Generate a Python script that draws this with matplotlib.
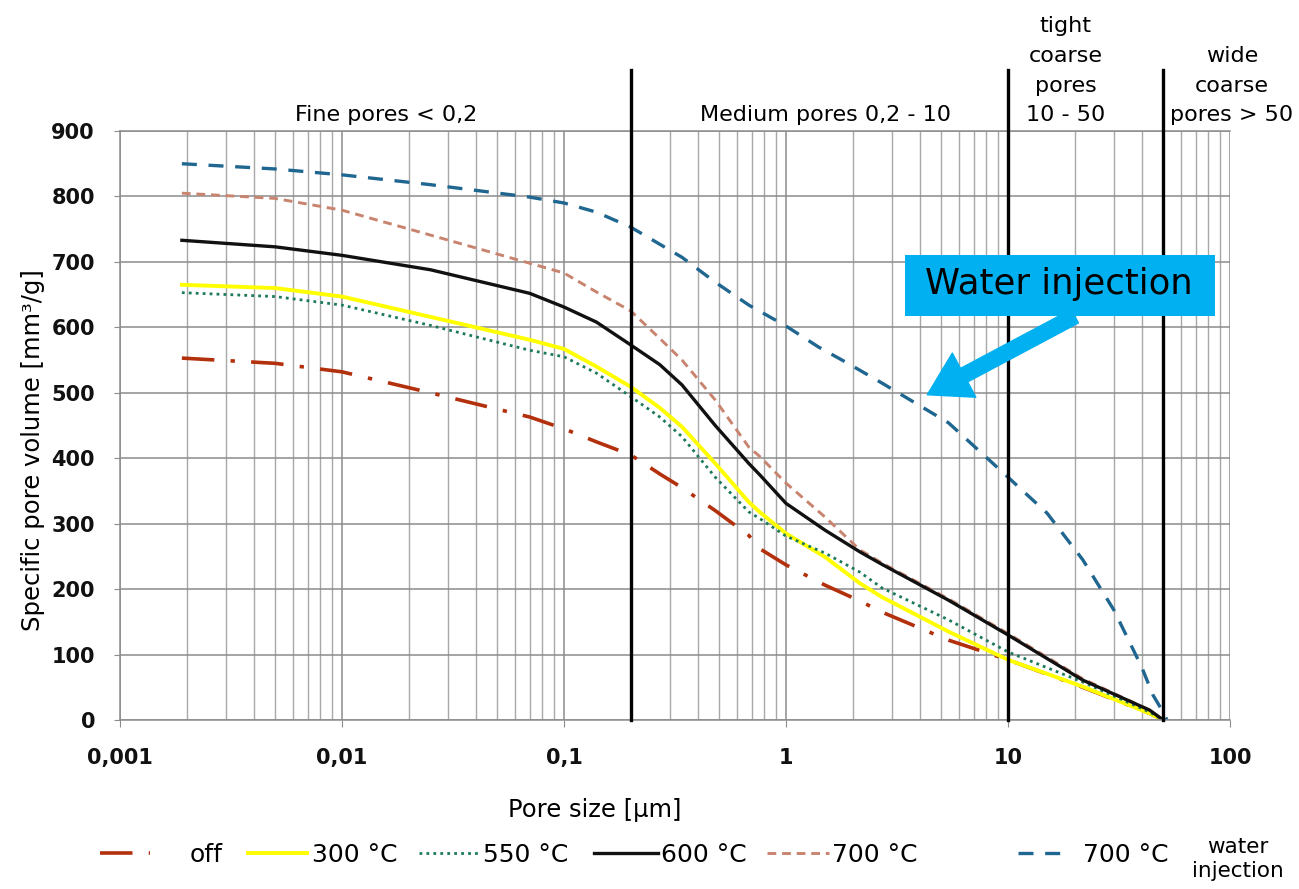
import matplotlib
matplotlib.use("Agg")
import matplotlib.pyplot as plt
from matplotlib.patches import Rectangle

plt.rcParams['font.family'] = ['DejaVu Sans']

# ---- data ----
x_common = [0.0019, 0.005, 0.01, 0.025, 0.07, 0.1, 0.14, 0.2, 0.27, 0.34, 0.48, 0.68,
            0.76, 1.0, 1.5, 2.15, 2.7, 5.4, 10, 21.7, 43.5, 50]
y_off    = [553, 545, 532, 500, 463, 445, 425, 405, 376, 355, 320, 282,
            262, 237, 206, 182, 165, 122, 92, 50, 10, 0]
y_300    = [665, 660, 647, 616, 581, 567, 540, 509, 477, 448, 392, 333,
            318, 285, 249, 209, 188, 135, 92, 51, 10, 0]
y_550    = [653, 647, 634, 603, 565, 555, 530, 494, 463, 433, 371, 318,
            308, 281, 255, 226, 202, 153, 104, 58, 12, 0]
y_600    = [733, 723, 710, 688, 652, 631, 608, 573, 543, 512, 450, 392,
            375, 331, 290, 257, 238, 183, 130, 61, 15, 0]
y_700    = [805, 797, 779, 741, 698, 683, 654, 625, 583, 550, 489, 417,
            403, 362, 310, 260, 240, 185, 132, 63, 15, 0]
x_water  = [0.0019, 0.005, 0.01, 0.025, 0.07, 0.1, 0.14, 0.2, 0.34, 0.48, 0.68,
            1.0, 1.4, 1.9, 2.7, 5.4, 10, 15, 21.7, 30, 40, 45, 50, 52]
y_water  = [850, 842, 833, 818, 799, 790, 776, 753, 707, 669, 634,
            602, 570, 545, 515, 454, 371, 316, 245, 168, 81, 38, 12, 0]

class_bounds = [0.2, 10, 50]
xtick_vals = [0.001, 0.01, 0.1, 1, 10, 100]
xtick_labels = ["0,001", "0,01", "0,1", "1", "10", "100"]
yticks = list(range(0, 901, 100))
legend_labels = ["off", "300 °C", "550 °C", "600 °C", "700 °C", "700 °C"]

W, H = 1299, 889
# ---- figure ----
fig = plt.figure(figsize=(W / 100, H / 100), dpi=100)
ax = fig.add_axes([120 / W, 1 - 720 / H, 1110 / W, 589 / H])
ax.set_xscale('log')
ax.set_xlim(0.001, 100)
ax.set_ylim(0, 900)

ax.set_xticks(xtick_vals)
ax.set_xticklabels(xtick_labels)
ax.set_yticks(yticks)
ax.grid(True, which='major', axis='both', color='#8c8c8c', lw=1.1)
ax.grid(True, which='minor', axis='x', color='#a8a8a8', lw=1.0)
ax.tick_params(axis='both', which='major', labelsize=15, colors='#8c8c8c',
               labelcolor='#111111')
ax.tick_params(axis='x', which='minor', length=0)
ax.tick_params(axis='x', which='major', length=5, pad=15)
ax.tick_params(axis='y', which='major', length=4, pad=14)
for lab in ax.get_xticklabels() + ax.get_yticklabels():
    lab.set_fontweight('bold')
for s in ax.spines.values():
    s.set_color('#8c8c8c')
    s.set_linewidth(1.1)
ax.spines['right'].set_visible(False)

# curves
l_off, = ax.plot(x_common, y_off, color='#b3300c', lw=2.6, dashes=[9, 4.5, 1.2, 4.5], label=legend_labels[0])
l_300, = ax.plot(x_common, y_300, color='#ffff00', lw=2.8, label=legend_labels[1])
l_550, = ax.plot(x_common, y_550, color='#1b7a5a', lw=2.0, linestyle=(0, (1, 1.5)), label=legend_labels[2])
l_700, = ax.plot(x_common, y_700, color='#c8846e', lw=2.1, dashes=[3, 2], label=legend_labels[4])
l_600, = ax.plot(x_common, y_600, color='#111111', lw=2.4, label=legend_labels[3])
l_wat, = ax.plot(x_water, y_water, color='#1f6690', lw=2.4, dashes=[4.5, 3.5], label=legend_labels[5])

# class boundaries
for b in class_bounds:
    ax.plot([b, b], [0, 993], color='black', lw=2.4, clip_on=False, zorder=5)

# class labels
ax.text(0.0158, 915, "Fine pores < 0,2", ha='center', va='baseline', fontsize=16)
ax.text(1.50, 915, "Medium pores 0,2 - 10", ha='center', va='baseline', fontsize=16)
ax.text(18.2, 915, "tight\ncoarse\npores\n10 - 50", ha='center', va='baseline',
        fontsize=16, linespacing=1.6, multialignment='center')
ax.text(102, 915, "wide\ncoarse\npores > 50", ha='center', va='baseline',
        fontsize=16, linespacing=1.6, multialignment='center', clip_on=False)

# axis labels
ax.set_ylabel("Specific pore volume [mm³/g]", fontsize=17.5)
ax.yaxis.set_label_coords(-0.068, 0.458)
ax.set_xlabel("Pore size [µm]", fontsize=17.5)
ax.xaxis.set_label_coords(0.428, -0.132)

# annotation
ax.annotate("", xy=(4.33, 497), xytext=(20, 617),
            arrowprops=dict(arrowstyle="simple,head_width=1.8,head_length=1.5,tail_width=0.55",
                            color='#00b0f0', mutation_scale=20, shrinkA=0, shrinkB=0), zorder=6)
ax.add_patch(Rectangle((785 / 1110, 404 / 589), 310 / 1110, 61 / 589, transform=ax.transAxes,
                       facecolor='#00b0f0', edgecolor='none', zorder=7, clip_on=False))
ax.text(939 / 1110, 436 / 589, "Water injection", transform=ax.transAxes, ha='center', va='center',
        fontsize=25.5, color='black', zorder=8)

# legend: one entry per slot
handles = [l_off, l_300, l_550, l_600, l_700, l_wat]
slot_x = [100, 248, 419, 594, 767, 1018]
slot_len = [2.0, 2.36, 2.36, 2.56, 2.48, 1.96]
slot_pad = [1.6, 0.2, 0.2, 0.12, 0.12, 0.64]
for h, lab, sx, ln, pd in zip(handles, legend_labels, slot_x, slot_len, slot_pad):
    fig.legend(handles=[h], labels=[lab], loc='center left', bbox_to_anchor=(sx / W, 1 - 855 / H),
               frameon=False, fontsize=18, handlelength=ln, handletextpad=pd,
               borderpad=0, borderaxespad=0)
fig.text(1238 / W, 1 - 859 / H, "water\ninjection", ha='center', va='center', fontsize=15.5, linespacing=1.3)

fig.savefig("out.png", dpi=100)
